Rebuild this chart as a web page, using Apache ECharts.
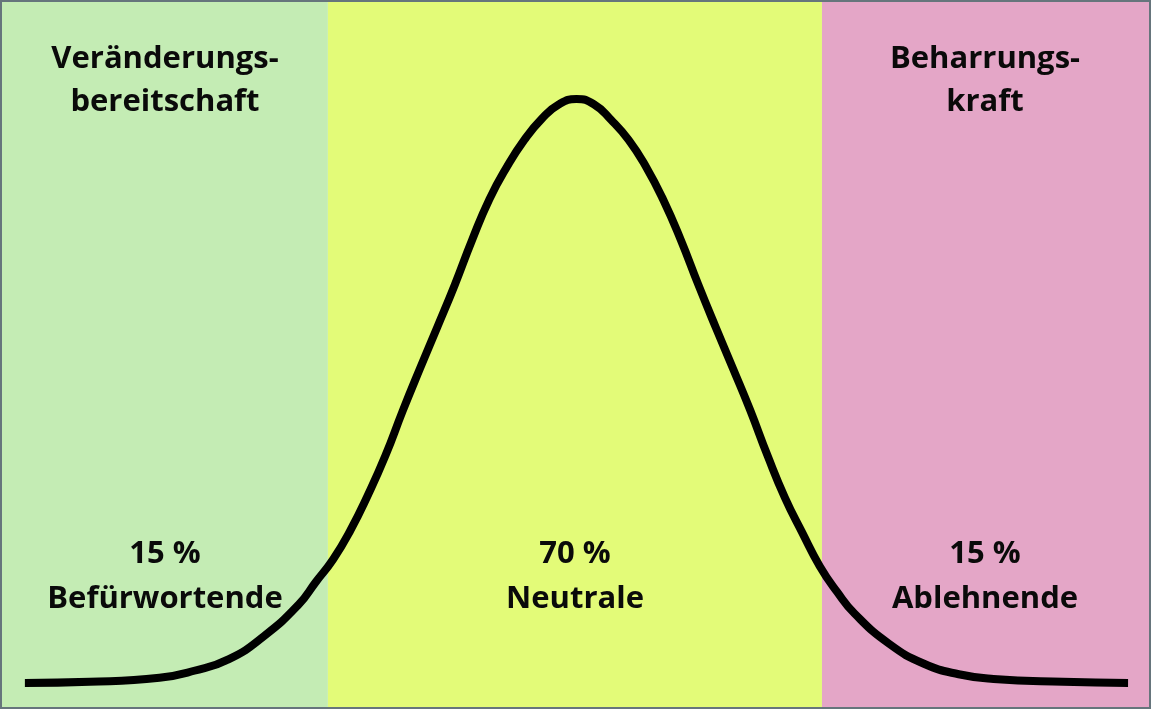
<!DOCTYPE html>
<html>
<head>
<meta charset="utf-8">
<title>Veränderungsbereitschaft</title>
<script src="https://cdn.jsdelivr.net/npm/echarts@6/dist/echarts.min.js"></script>
<style>
  html, body { margin: 0; padding: 0; background: #ffffff; }
  #chart { width: 1151px; height: 709px; }
</style>
</head>
<body>
<div id="chart"></div>
<script>
// Position (in Standardabweichungen der Kurve) und relative Höhe der Glockenkurve (Peak = 100)
const curveX = [-3.968, -3.5, -3.0, -2.75, -2.5, -2.25, -2.0, -1.875, -1.75, -1.625, -1.5, -1.375, -1.25, -1.125,
  -1.0, -0.875, -0.75, -0.625, -0.5, -0.375, -0.25, -0.125, 0,
  0.125, 0.25, 0.375, 0.5, 0.625, 0.75, 0.875, 1.0, 1.125, 1.25, 1.375, 1.5, 1.625, 1.75, 1.875,
  2.0, 2.25, 2.5, 2.75, 3.0, 3.5, 3.968]
const curveY = [0, 0.2, 0.9, 2.1, 4.1, 8.0, 13.4, 17.3, 21.2, 26.2, 32.2, 38.9, 46.6, 53.9,
  61.0, 68.2, 75.9, 82.9, 88.4, 93.0, 96.6, 99.1, 100,
  99.1, 96.4, 93.0, 88.4, 82.7, 75.9, 68.3, 61.0, 53.9, 46.7, 38.9, 31.7, 25.7, 20.0, 15.6,
  11.9, 6.7, 3.3, 1.5, 0.7, 0.2, 0]

// Bereiche: 15 % / 70 % / 15 %
const bandEdges = [-4.147, -1.788, 1.766, 4.133]
const bandColors = ['#c4ecb4', '#e3fb78', '#e4a6c7']
const bandHeads = [['Veränderungs-', 'bereitschaft'], [], ['Beharrungs-', 'kraft']]
const bandShares = ['15 %', '70 %', '15 %']
const bandNames = ['Befürwortende', 'Neutrale', 'Ablehnende']

const chart = echarts.init(document.getElementById('chart'))

const font = 'bold 31px "Open Sans", "Noto Sans", sans-serif'
const textX = [165, 575, 985]

const makeText = (t, x, y) => ({
  type: 'text', x: x, y: y, z: 10,
  style: { text: t, font: font, fill: '#0a0a0a', align: 'center', verticalAlign: 'top' }
})

const texts = []
bandHeads.forEach((lines, i) => {
  lines.forEach((t, j) => texts.push(makeText(t, textX[i], 44 + j * 43)))
  texts.push(makeText(bandShares[i], textX[i], 539))
  texts.push(makeText(bandNames[i], textX[i], 584))
})

const option = {
  animation: false,
  grid: { left: 0, right: 0, top: 0, bottom: 0 },
  xAxis: {
    type: 'value',
    min: bandEdges[0],
    max: bandEdges[3],
    show: false
  },
  yAxis: {
    type: 'value',
    min: -4.45,
    max: 116.95,
    show: false
  },
  graphic: [
    ...texts,
    {
      type: 'rect', z: 20,
      shape: { x: 1, y: 1, width: 1149, height: 707 },
      style: { fill: 'none', stroke: '#66757c', lineWidth: 2 }
    }
  ],
  series: [
    {
      type: 'line',
      data: curveX.map((x, i) => [x, curveY[i]]),
      smooth: true,
      showSymbol: false,
      lineStyle: { color: '#000000', width: 8, cap: 'butt', join: 'round' },
      markArea: {
        silent: true,
        data: bandColors.map((c, i) => [
          { xAxis: bandEdges[i], itemStyle: { color: c, opacity: 1 } },
          { xAxis: bandEdges[i + 1] }
        ])
      },
      z: 5
    }
  ]
}

chart.setOption(option)
window.addEventListener('resize', () => chart.resize())
</script>
</body>
</html>
